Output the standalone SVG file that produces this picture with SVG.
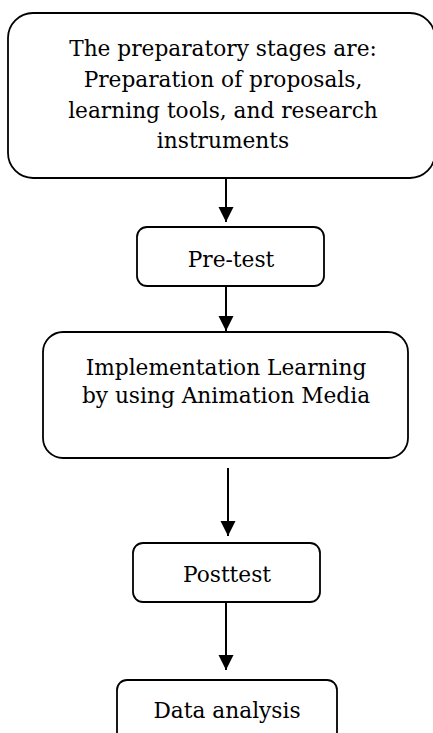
<svg xmlns="http://www.w3.org/2000/svg" width="433" height="733" viewBox="0 0 433 733">
<defs>
<style>
.box{fill:#fff;stroke:#000;stroke-width:1.8}
.t{font-family:"DejaVu Serif","Liberation Serif",serif;font-size:21.7px;fill:#000;text-anchor:middle}
.c{stroke:#000;stroke-width:2;fill:none}
</style>
<marker id="ah" markerUnits="userSpaceOnUse" markerWidth="16" markerHeight="16" refX="15" refY="8" orient="auto">
<path d="M0,0.5 L15,8 L0,15.5 Z" fill="#000"/>
</marker>
</defs>
<rect width="433" height="733" fill="#fff"/>
<g id="connectors">
<line class="c" x1="226" y1="178" x2="226" y2="222" marker-end="url(#ah)"/>
<line class="c" x1="226" y1="286" x2="226" y2="331" marker-end="url(#ah)"/>
<line class="c" x1="228" y1="468" x2="228" y2="536" marker-end="url(#ah)"/>
<line class="c" x1="226" y1="602" x2="226" y2="670" marker-end="url(#ah)"/>
</g>
<g id="node-prep">
<rect class="box" x="8" y="13" width="427" height="165" rx="25"/>
<text class="t" x="223" y="56">The preparatory stages are:</text>
<text class="t" x="223" y="87">Preparation of proposals,</text>
<text class="t" x="223" y="118">learning tools, and research</text>
<text class="t" x="223" y="148">instruments</text>
</g>
<g id="node-pretest">
<rect class="box" x="137" y="227" width="187" height="59" rx="10"/>
<text class="t" x="231" y="267">Pre-test</text>
</g>
<g id="node-impl">
<rect class="box" x="43" y="332" width="365" height="126" rx="20"/>
<text class="t" x="226" y="375">Implementation Learning</text>
<text class="t" x="226" y="403">by using Animation Media</text>
</g>
<g id="node-posttest">
<rect class="box" x="133" y="543" width="187" height="59" rx="10"/>
<text class="t" x="227" y="582">Posttest</text>
</g>
<g id="node-data">
<rect class="box" x="117" y="680" width="220" height="70" rx="10"/>
<text class="t" x="227" y="718">Data analysis</text>
</g>
</svg>
